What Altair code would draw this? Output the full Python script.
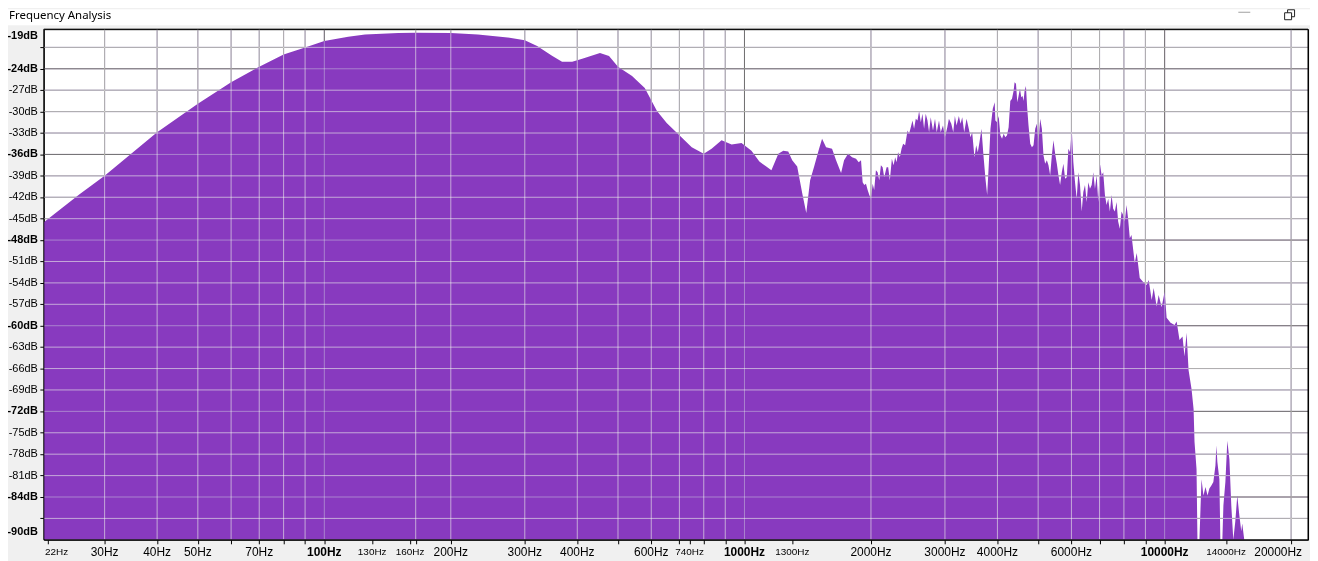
import altair as alt
import pandas as pd

# ---- spectrum, in bands (Hz, dB) ----
low_hz = [21.5, 26.1, 30, 40, 50, 60, 70, 80, 90, 100, 114, 125, 150, 165, 200, 232, 273, 300,
          321, 349, 368, 389, 411, 453, 476, 500, 540, 579, 619, 653, 700, 749, 800, 835, 882,
          932, 984, 1039, 1085, 1127, 1159, 1204, 1237, 1271, 1299, 1335, 1372, 1403, 1433,
          1465, 1505, 1530, 1564, 1616, 1652, 1698, 1726, 1764, 1803]
low_db = [-45.5, -41.6, -39.0, -32.9, -28.9, -25.9, -23.7, -22.0, -21.0, -20.1, -19.5, -19.2,
          -19.0, -18.95, -19.0, -19.2, -19.6, -20.0, -20.8, -22.2, -23.0, -23.0, -22.6, -21.8,
          -22.2, -23.7, -25.0, -26.7, -29.9, -31.6, -33.3, -35.0, -35.9, -35.2, -34.0, -34.6,
          -34.4, -35.5, -37.0, -37.7, -38.2, -35.9, -35.5, -35.6, -36.8, -37.7, -41.4, -44.2,
          -39.6, -37.7, -35.2, -33.8, -35.0, -35.2, -36.8, -38.6, -36.8, -35.9, -36.4]

mid_hz = [1843, 1870, 1894, 1911, 1928, 1946, 1964, 1982, 2000, 2019, 2036, 2055, 2074, 2093,
          2112, 2132, 2151, 2179, 2198, 2218, 2243, 2264, 2284, 2301, 2321, 2343, 2365, 2386,
          2412, 2444, 2465, 2488, 2511, 2533, 2557, 2581, 2604, 2628, 2652, 2676, 2700, 2726,
          2750, 2775, 2810, 2841, 2868, 2904, 2931, 2968, 3000, 3039, 3066, 3106, 3140, 3168,
          3197, 3238, 3268, 3298, 3334, 3377, 3419, 3451, 3483, 3527, 3560, 3592, 3625, 3665,
          3705, 3746, 3781, 3814, 3850, 3899, 3941]
mid_db = [-36.6, -37.1, -36.8, -39.9, -40.3, -40.1, -41.0, -41.7, -42.2, -40.1, -41.0, -38.2,
          -38.5, -39.6, -37.5, -37.8, -39.2, -37.8, -37.8, -39.6, -36.6, -37.5, -36.4, -37.1,
          -35.7, -36.4, -35.2, -34.5, -34.7, -32.65, -33.1, -32.2, -31.25, -32.4, -31.0, -31.25,
          -29.9, -31.5, -30.3, -32.4, -30.3, -31.25, -32.9, -30.8, -32.65, -31.0, -32.9, -31.25,
          -32.9, -31.95, -33.6, -32.2, -31.0, -31.7, -32.9, -30.6, -31.95, -30.6, -31.7, -30.8,
          -32.9, -31.0, -32.4, -33.6, -32.9, -36.4, -34.7, -35.7, -34.3, -32.4, -36.1, -39.4,
          -41.7, -37.5, -32.4, -29.6, -28.7]

upper_hz = [3955, 3992, 4027, 4065, 4102, 4138, 4177, 4216, 4253, 4292, 4332, 4370, 4394, 4428,
            4460, 4491, 4526, 4558, 4591, 4616, 4641, 4676, 4710, 4743, 4788, 4832, 4875, 4920,
            4966, 5010, 5056, 5103, 5148, 5196, 5244, 5291, 5340, 5390, 5437, 5488, 5539, 5587,
            5639, 5692, 5742, 5796, 5850, 5901, 5956, 6011, 6064, 6120, 6177, 6231, 6289, 6348,
            6404, 6463, 6524, 6581, 6642, 6704, 6763, 6826, 6890, 6950, 7015, 7080, 7142, 7209,
            7276, 7340, 7408, 7477, 7543, 7613, 7684, 7751, 7824, 7897, 7966, 8040, 8115, 8186,
            8262, 8339]
upper_db = [-31.25, -31.5, -30.6, -33.3, -33.8, -33.1, -33.6, -33.3, -32.2, -28.5, -28.2, -27.1,
            -25.9, -26.1, -28.7, -27.8, -26.8, -28.0, -27.8, -28.5, -27.1, -26.4, -29.6, -31.95,
            -34.5, -35.0, -34.7, -32.4, -31.7, -34.3, -31.0, -32.4, -36.1, -37.3, -36.8, -37.5,
            -38.9, -36.1, -34.0, -35.9, -37.3, -38.9, -40.3, -38.5, -37.3, -39.4, -39.2, -35.2,
            -35.7, -32.4, -37.1, -39.9, -42.2, -38.5, -40.3, -44.0, -41.25, -40.3, -42.65, -39.9,
            -40.8, -40.3, -38.5, -40.8, -38.9, -42.65, -37.3, -38.9, -38.5, -41.7, -43.1, -42.2,
            -44.0, -41.7, -43.6, -44.0, -42.65, -45.4, -46.4, -44.0, -44.5, -45.4, -43.1, -45.0,
            -47.75, -47.3]

top_hz = [8489, 8582, 8725, 8869, 9064, 9164, 9315, 9417, 9572, 9678, 9838, 10000, 10110, 10330,
          10560, 10680, 10850, 11030, 11150, 11280, 11400, 11590, 11720, 11780, 11910, 11970,
          12100, 12240, 12370, 12510, 12650, 12780, 12920, 13060, 13210, 13280, 13350, 13500,
          13570, 13720, 13800, 13950, 14100, 14260, 14410, 14570, 14730, 14890, 15060, 15220,
          15300, 15470, 21940]
top_db = [-51.2, -49.8, -53.3, -53.8, -54.3, -53.6, -56.4, -54.7, -57.3, -55.7, -57.4, -55.2,
          -58.9, -59.6, -59.9, -59.4, -62.0, -61.5, -64.3, -61.0, -66.2, -68.9, -71.7, -76.3,
          -80.1, -90, -90, -81.5, -83.8, -82.6, -83.8, -82.8, -82.4, -81.9, -79.6, -76.8, -79.1,
          -81.5, -90, -90, -85.2, -81.9, -76.1, -78.7, -85.2, -90, -87.4, -83.8, -86.6, -88.8,
          -87.7, -90, -90]

# ---- grid and labels ----
grid_minor_hz = [30, 40, 50, 60, 70, 80, 90, 165, 200, 300, 400, 500, 600, 700, 800, 900,
                 2000, 3000, 4000, 5000, 6000, 7000, 8000, 9000, 20000]
grid_major_hz = [100, 1000, 10000]
grid_minor_db = [-21, -27, -30, -33, -39, -42, -45, -51, -54, -57, -63, -66, -69, -75, -78, -81, -87]
grid_major_db = [-24, -36, -48, -60, -72, -84]

x_labels_regular = [30, 40, 50, 70, 200, 300, 400, 600, 2000, 3000, 4000, 6000]
x_labels_bold = [100, 1000, 10000]
x_labels_small = [130, 160, 740, 1300, 14000]
x_label_first = [22]
x_label_last = [20000]

y_labels_bold = [-24, -36, -48, -60, -72, -84]
y_labels_regular = [-27, -30, -33, -39, -42, -45, -51, -54, -57, -63, -66, -69, -75, -78, -81]
y_label_top = [-19]
y_label_bottom = [-90]

freq_hz = low_hz + mid_hz + upper_hz + top_hz
level_db = low_db + mid_db + upper_db + top_db
assert len(low_hz) == len(low_db) and len(mid_hz) == len(mid_db)
assert len(upper_hz) == len(upper_db) and len(top_hz) == len(top_db)

W, H = 1270, 513
PURPLE = "#883abf"
FONT = "Liberation Sans"

x_ticks = sorted(set(grid_minor_hz + grid_major_hz + x_labels_regular + x_labels_bold
                     + x_labels_small + x_label_first + x_label_last))
y_ticks = sorted(grid_minor_db + grid_major_db)

xscale = alt.Scale(type="log", domain=[21.5, 21940], nice=False)
yscale = alt.Scale(domain=[-90, -18.45], zero=False, nice=False)
xaxis = alt.Axis(values=x_ticks, labels=False, grid=False, domain=False, tickSize=4,
                 tickColor="black", title=None)
yaxis = alt.Axis(values=y_ticks, labels=False, grid=False, domain=False, tickSize=4,
                 tickColor="black", title=None)

def X(field="f"):
    return alt.X(f"{field}:Q", scale=xscale, axis=xaxis)

def Y(field="db"):
    return alt.Y(f"{field}:Q", scale=yscale, axis=yaxis)

one = pd.DataFrame({"k": [0]})

# window chrome
titlebar = alt.Chart(one).mark_rect(color="white").encode(
    x=alt.value(-36), x2=alt.value(W + 2), y=alt.value(-20), y2=alt.value(-4))
title = alt.Chart(one).mark_text(text="Frequency Analysis", font="Noto Sans", fontSize=11.5,
                                 align="left", baseline="middle", color="black").encode(
    x=alt.value(-35), y=alt.value(-13.5))
minimize = alt.Chart(one).mark_rule(color="#a0a0a0", strokeWidth=1).encode(
    x=alt.value(1200), x2=alt.value(1212), y=alt.value(-17))
restore_back = alt.Chart(one).mark_rect(fillOpacity=0, stroke="#222222", strokeWidth=1).encode(
    x=alt.value(1249.5), x2=alt.value(1256.5), y=alt.value(-19.5), y2=alt.value(-12.5))
restore_front = alt.Chart(one).mark_rect(fill="white", stroke="#222222", strokeWidth=1).encode(
    x=alt.value(1246.5), x2=alt.value(1253.5), y=alt.value(-16.5), y2=alt.value(-9.5))

def vrules(vals, color, blend=None):
    kw = dict(color=color, strokeWidth=1)
    if blend:
        kw["blend"] = blend
    return alt.Chart(pd.DataFrame({"f": vals})).mark_rule(**kw).encode(x=X())

def hrules(vals, color, blend=None):
    kw = dict(color=color, strokeWidth=1)
    if blend:
        kw["blend"] = blend
    return alt.Chart(pd.DataFrame({"db": vals})).mark_rule(**kw).encode(y=Y())

spec_df = pd.DataFrame({"f": freq_hz, "db": level_db})
area = alt.Chart(spec_df).mark_area(color=PURPLE, clip=True, interpolate="linear").encode(
    x=X(), y=Y(), y2=alt.datum(-90))

border = alt.Chart(one).mark_rect(fillOpacity=0, stroke="black", strokeWidth=1).encode(
    x=alt.value(0), x2=alt.value(W), y=alt.value(0), y2=alt.value(H))

def xlabels(vals, size, weight, align="center", dx=0):
    return alt.Chart(pd.DataFrame({"f": vals})).transform_calculate(
        label="datum.f + 'Hz'").mark_text(font=FONT, fontSize=size, fontWeight=weight,
                                          align=align, dx=dx, baseline="middle",
                                          color="black").encode(
        x=X(), y=alt.value(H + 12), text="label:N")

def ylabels(vals, weight, dy=0):
    return alt.Chart(pd.DataFrame({"db": vals})).transform_calculate(
        label="datum.db + 'dB'").mark_text(font=FONT, fontSize=11, fontWeight=weight,
                                           align="right", baseline="middle", dy=dy,
                                           color="black").encode(
        y=Y(), x=alt.value(-6), text="label:N")

layers = [
    titlebar, title, minimize, restore_back, restore_front,
    vrules(grid_minor_hz, "#5f4b79"), hrules(grid_minor_db, "#5f4b79"),
    vrules(grid_major_hz, "#371d42"), hrules(grid_major_db, "#371d42"),
    area,
    vrules(grid_minor_hz, "#818f68", "screen"), hrules(grid_minor_db, "#818f68", "screen"),
    vrules(grid_major_hz, "#495e3e", "screen"), hrules(grid_major_db, "#495e3e", "screen"),
    border,
    xlabels(x_labels_regular, 12, "normal"),
    xlabels(x_labels_bold, 12, "bold"),
    xlabels(x_labels_small, 10, "normal"),
    xlabels(x_label_first, 10, "normal", align="left", dx=-3),
    xlabels(x_label_last, 12, "normal", align="right", dx=11),
    ylabels(y_labels_regular, "normal"),
    ylabels(y_labels_bold, "bold"),
    ylabels(y_label_top, "bold", dy=3),
    ylabels(y_label_bottom, "bold", dy=-8),
]

chart = alt.layer(*layers).properties(
    width=W, height=H,
    autosize=alt.AutoSizeParams(type="none"),
    padding={"left": 36, "top": 20, "right": 2, "bottom": 22},
    background="#f0f0f0",
).configure_view(fill="white", stroke="black", strokeWidth=1)

chart.save("out.html", embed_options={"renderer": "svg", "actions": False})
